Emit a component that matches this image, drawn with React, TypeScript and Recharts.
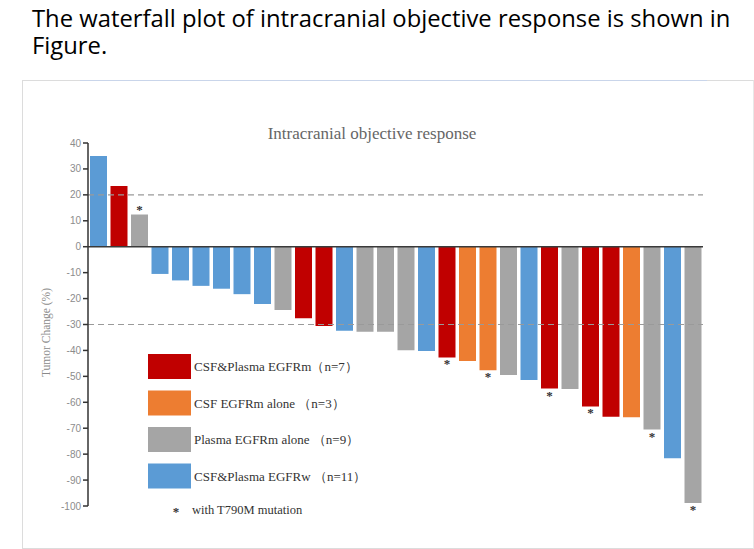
import React from 'react';
import { BarChart, Bar, XAxis, YAxis, Cell, ReferenceLine, LabelList } from 'recharts';

// group of each patient: 0 CSF&Plasma EGFRm, 1 CSF alone, 2 Plasma alone, 3 EGFRw
const groups = [3, 0, 2, 3, 3, 3, 3, 3, 3, 2, 0, 0, 3, 2, 2, 2, 3, 0, 1, 1, 2, 3, 0, 2, 0, 0, 1, 2, 3, 2];
const changes = [35, 23.4, 12.4, -10.5, -13, -15.1, -16.2, -18.3, -22.1, -24.4, -27.6, -30.6, -32.4, -32.8, -32.8,
  -39.9, -40.2, -42.7, -44.1, -47.6, -49.5, -51.4, -54.7, -54.9, -61.6, -65.6, -65.8, -70.5, -81.6, -98.8];
// patients carrying T790M
const t790m = [3, 18, 20, 23, 25, 28, 30];

const groupNames = ['CSF&Plasma EGFRm（n=7）', 'CSF EGFRm alone （n=3）', 'Plasma EGFRm alone （n=9）', 'CSF&Plasma EGFRw （n=11）'];
const groupColors = ['#C00000', '#ED7D31', '#A5A5A5', '#5B9BD5'];
const yTicks = [40, 30, 20, 10, 0, -10, -20, -30, -40, -50, -60, -70, -80, -90, -100];

const data = changes.map((v, i) => ({
  id: i + 1,
  change: v,
  group: groups[i],
  mark: t790m.includes(i + 1) ? '*' : '',
}));

const serif = '"Liberation Serif", "DejaVu Serif", serif';

const Star = (props: any) => {
  const { x, y, width, height, value, index } = props;
  if (!value) return null;
  const top = Math.min(y, y + height);
  const bottom = Math.max(y, y + height);
  const up = data[index] ? data[index].change > 0 : height > 0;
  const cy = up ? top - 6 : bottom + 6;
  return (
    <text x={x + width / 2} y={cy + 5} textAnchor="middle" fontSize={13} fontWeight="bold" fill="#333" fontFamily={serif}>
      *
    </text>
  );
};

const App = () => {
  return (
    <div style={{ position: 'absolute', left: 0, top: 0, width: 754, height: 549, background: '#fff', overflow: 'hidden' }}>
      <div style={{ position: 'absolute', left: 32, top: 5, width: 716, fontFamily: '"Open Sans", sans-serif', fontSize: 23.8, lineHeight: '27px', color: '#000' }}>
        The waterfall plot of intracranial objective response is shown in Figure.
      </div>
      <div style={{ position: 'absolute', left: 22, top: 80, width: 730, height: 467, border: '1px solid #dcdcdc', borderRight: '1px solid #e8e8e8' }} />
      <div style={{ position: 'absolute', left: 80, top: 80, width: 627, height: 1, background: '#c9d5ea' }} />
      <div style={{ position: 'absolute', left: 0, top: 0 }}>
        <BarChart width={754} height={549} data={data} margin={{ top: 143, right: 51, bottom: 43, left: 0 }} barSize={17}>
          <XAxis dataKey="id" hide />
          <YAxis
            width={88}
            domain={[-100, 40]}
            ticks={yTicks}
            interval={0}
            allowDataOverflow
            tick={{ fill: '#8c8c8c', fontSize: 10, fontFamily: '"Liberation Sans", Arial, sans-serif' }}
            tickLine={{ stroke: '#333', strokeWidth: 1.5 }}
            tickSize={5}
            axisLine={{ stroke: '#333', strokeWidth: 1.5 }}
            label={{
              value: 'Tumor Change (%)',
              angle: -90,
              position: 'insideLeft',
              offset: 46,
              dy: 8,
              style: { fill: '#8a8a8a', fontSize: 11.5, fontFamily: serif, textAnchor: 'middle' },
            }}
          />
          <ReferenceLine y={20} stroke="#9a9a9a" strokeWidth={1.2} strokeDasharray="6 4" />
          <ReferenceLine y={-30} stroke="#9a9a9a" strokeWidth={1.2} strokeDasharray="6 4" />
          <Bar dataKey="change" isAnimationActive={false}>
            {data.map((d) => (
              <Cell key={d.id} fill={groupColors[d.group]} />
            ))}
            <LabelList dataKey="mark" content={Star} />
          </Bar>
          <ReferenceLine y={0} stroke="#3a3a3a" strokeWidth={1.6} />
          <text x={372} y={139} textAnchor="middle" fontSize={17} fill="#666" fontFamily={serif}>
            Intracranial objective response
          </text>
          {groupNames.map((name, i) => (
            <g key={name}>
              <rect x={148} y={354 + i * 36.5} width={43} height={25} fill={groupColors[i]} />
              <text x={194} y={371 + i * 36.5} fontSize={13} fill="#333" fontFamily={serif}>
                {name}
              </text>
            </g>
          ))}
          <text x={176} y={516} textAnchor="middle" fontSize={13} fontWeight="bold" fill="#333" fontFamily={serif}>
            *
          </text>
          <text x={192} y={514} fontSize={12.5} fill="#333" fontFamily={serif}>
            with T790M mutation
          </text>
        </BarChart>
      </div>
    </div>
  );
};

export default App;
